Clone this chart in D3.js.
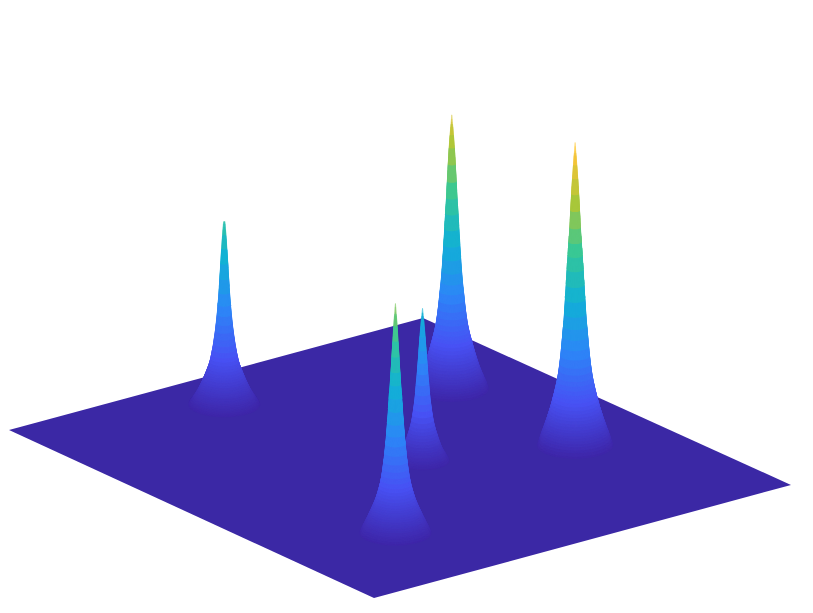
<!DOCTYPE html>
<html><head><meta charset="utf-8"><style>html,body{margin:0;background:#fff}svg{display:block}</style>
<script src="https://cdn.jsdelivr.net/npm/d3@7"></script></head><body><svg id="c" width="813" height="613"></svg>
<script>
// Peak values, in plane coordinates and normalised z
const peakNames = ["D","A","E","C","B"];
const peakGridU = [0.809,0.412,0.807,0.526,0.247];
const peakGridV = [0.2935,0.122,0.6315,0.534,0.777];
const peakZ     = [0.80,0.535,0.885,0.445,0.67];
// Fraction of each peak's height at which its radius was read
const profileLevels = [0,0.02,0.04,0.08,0.15,0.24,0.38,0.5,0.6,0.7,0.81,0.9,1];
const radiusD = [37,35,32.5,28,22,16,11.5,9,7.4,5.8,4.2,2.8,0.6];
const radiusA = [36,33.5,31,26.5,20.5,14.5,10,7.5,6,4.8,3.6,2.6,1.2];
const radiusE = [38,36,34,29.5,23,17,12.5,10,8.2,6.2,4.4,2.8,0.6];
const radiusC = [27,25.5,23.5,20,16,12,8.6,6.8,5.5,4.3,3.2,2.1,0.6];
const radiusB = [36,34,31.5,27,20,14.5,10.5,8.2,6.6,5,3.5,2.3,0.6];
const profiles = {D:radiusD,A:radiusA,E:radiusE,C:radiusC,B:radiusB};
const planeCornersU = [0,1,1,0], planeCornersV = [0,0,1,1];
const parulaStops = ["#3e26a8","#4852f4","#2d87f7","#12b1d6","#37c897","#abc739","#fec338","#f9fb15"];

const xLeft = d3.scaleLinear([0,1],[9,374]), xRight = d3.scaleLinear([0,1],[423,791]);
const yLeft = d3.scaleLinear([0,1],[430,598]), yRight = d3.scaleLinear([0,1],[318,485]);
const zPx = d3.scaleLinear([0,1],[0,342]);
const colour = d3.scaleLinear(parulaStops.map((_,i)=>i/(parulaStops.length-1)),parulaStops).clamp(true);
const px = (u,v)=>d3.scaleLinear([0,1],[xLeft(v),xRight(v)])(u);
const py = (u,v)=>d3.scaleLinear([0,1],[yLeft(v),yRight(v)])(u);
const svg = d3.select("#c");
svg.append("polygon").attr("fill","#3b28a5")
  .attr("points",planeCornersU.map((u,i)=>[px(u,planeCornersV[i]),py(u,planeCornersV[i])].join(",")).join(" "));

// smooth curve through the measured radii
function smoothRadius(xs,ys){
  const m = xs.map((_,i)=>{
    const a=Math.max(i-1,0), b=Math.min(i+1,xs.length-1);
    return (ys[b]-ys[a])/(xs[b]-xs[a]);
  });
  return x=>{
    let i=Math.min(d3.bisectRight(xs,x)-1,xs.length-2);
    const d=xs[i+1]-xs[i], t=(x-xs[i])/d, t2=t*t, t3=t2*t;
    return (2*t3-3*t2+1)*ys[i]+(t3-2*t2+t)*d*m[i]+(-2*t3+3*t2)*ys[i+1]+(t3-t2)*d*m[i+1];
  };
}
const gridStep = 0.9; // screen radius of one mesh cell: flat-shaded bands follow it

peakNames.forEach((n,i)=>{
  const r = smoothRadius(profileLevels,profiles[n]);
  const cx = px(peakGridU[i],peakGridV[i]), cy = py(peakGridU[i],peakGridV[i]);
  const h = zPx(peakZ[i]);
  const levels = d3.range(0,1.0001,0.5/h);
  const key = f=>Math.round(r(f)/gridStep);
  const bandLevel = d3.rollup(levels,v=>d3.mean(v),key);
  svg.append("g").selectAll("ellipse").data(levels).join("ellipse")
    .attr("cx",cx).attr("cy",f=>cy-f*h)
    .attr("rx",f=>r(f)).attr("ry",f=>r(f)*0.36)
    .attr("fill",f=>colour(bandLevel.get(key(f))*peakZ[i]));
});
</script></body></html>
